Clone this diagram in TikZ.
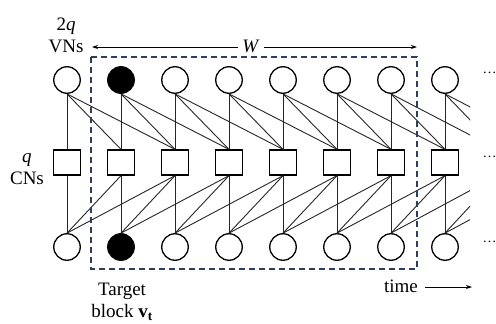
\documentclass[tikz,border=0pt]{standalone}
\usepackage{fontspec}
\setmainfont{Liberation Serif}
\usetikzlibrary{arrows.meta}
\definecolor{boxblue}{HTML}{2E3F5E}
\begin{document}
\begin{tikzpicture}[x=1pt,y=-1pt,
  vn/.style={circle,draw,line width=1.3pt,minimum size=26.5pt,inner sep=0pt},
  cn/.style={rectangle,draw,line width=1.3pt,minimum width=27pt,minimum height=25pt,inner sep=0pt,fill=white},
  edge/.style={line width=0.9pt,draw=black!85},
  lbl/.style={font=\fontsize{19}{22}\selectfont,inner sep=0pt,align=center},
  dotlbl/.style={font=\fontsize{14}{16}\selectfont,inner sep=0pt,anchor=west},
  tip/.style={-{Stealth[length=6pt,width=4pt]},line width=0.9pt},
]
\useasboundingbox (0,0) rectangle (496,324);
% nodes
\foreach \i/\f in {0/white,1/black,2/white,3/white,4/white,5/white,6/white,7/white} {
  \node[vn,fill=\f] (v\i) at ({67+54*\i},80) {};
  \node[cn] (c\i) at ({67+54*\i},162.5) {};
  \node[vn,fill=\f] (u\i) at ({67+54*\i},247) {};
}
% positions of the next check nodes, outside the picture
\foreach \j in {8,9} {
  \coordinate (ct\j) at ({67+54*\j},150);
  \coordinate (cb\j) at ({67+54*\j},175);
}
% edges
\begin{scope}
\clip (0,0) rectangle (470,324);
\foreach \i in {0,...,7} {
  \foreach \d in {0,1,2} {
    \pgfmathtruncatemacro\j{\i+\d}
    \ifnum\j<8
      \draw[edge] (v\i.south) -- (c\j.north);
      \draw[edge] (c\j.south) -- (u\i.north);
    \else
      \draw[edge] (v\i.south) -- (ct\j);
      \draw[edge] (cb\j) -- (u\i.north);
    \fi
  }
}
\end{scope}
% window box
\draw[boxblue,line width=1.8pt,dash pattern=on 6pt off 4pt] (91,57) rectangle (417,269);
% labels
\node[lbl] (vnlab) at (66,35) {2\textit{q}\\VNs};
\node[lbl] (cnlab) at (27,169) {\textit{q}\\CNs};
\node[lbl,fill=white,inner xsep=4pt] (wlab) at (251,46) {\textit{W}};
\coordinate (wl) at (92,47);
\coordinate (wr) at (417,47);
\draw[tip] (wlab.west |- wl) -- (wl);
\draw[tip] (wlab.east |- wr) -- (wr);
\node[lbl] (tgt) at (122,302) {Target\\block \textbf{v}\textsubscript{\textbf{t}}};
\node[lbl] (time) at (401,286) {time};
\coordinate (tend) at (472,287);
\draw[tip] ([xshift=7pt]time.east |- tend) -- (tend);
\node[dotlbl] (d1) at (482.5,73) {\dots};
\node[dotlbl] (d2) at (482.5,157) {\dots};
\node[dotlbl] (d3) at (482.5,242) {\dots};
\end{tikzpicture}
\end{document}
